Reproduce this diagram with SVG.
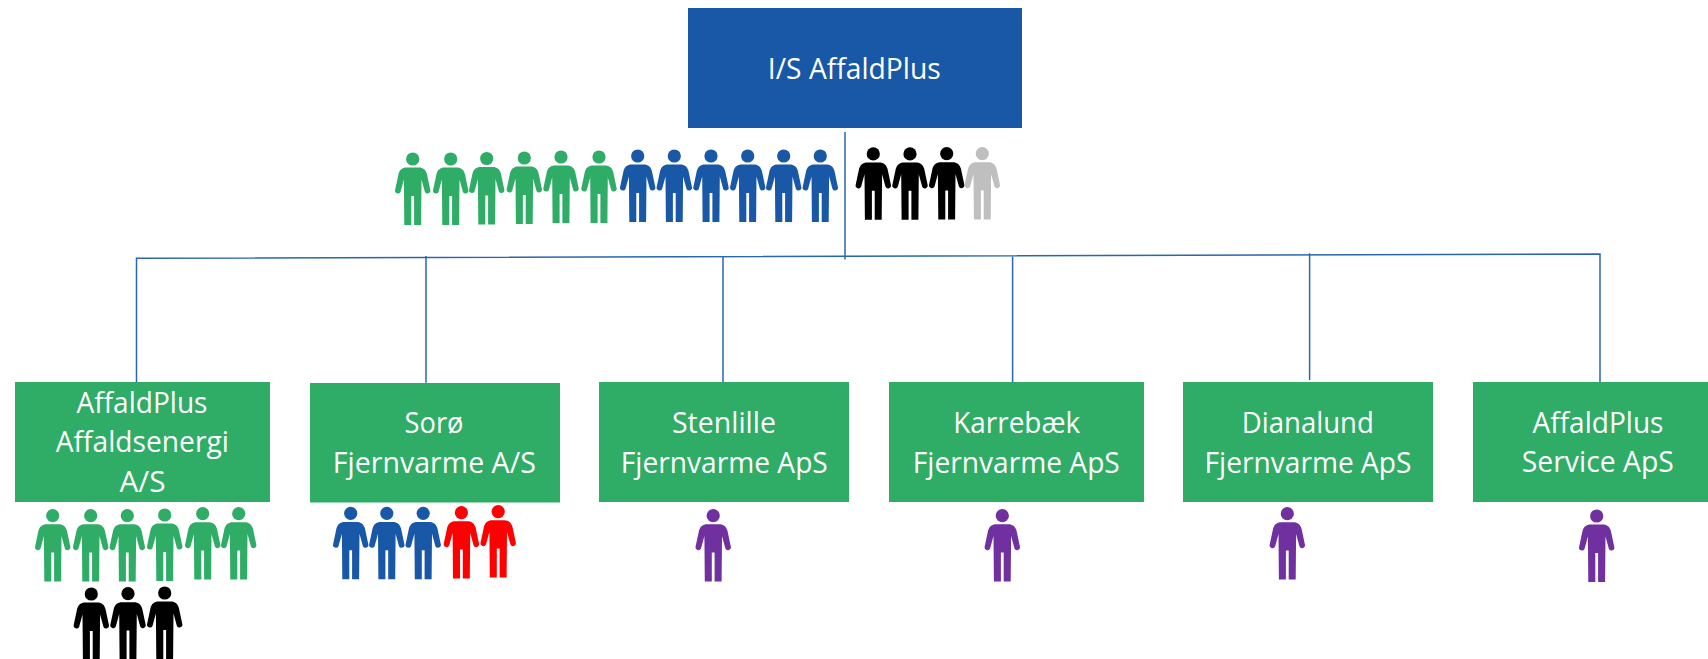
<svg xmlns="http://www.w3.org/2000/svg" xmlns:xlink="http://www.w3.org/1999/xlink" width="1708" height="659" viewBox="0 0 1708 659">
<style>
text{font-family:"Open Sans","Noto Sans","Liberation Sans",sans-serif;font-size:30px;fill:#fff;text-anchor:middle}
.blue-box{fill:#1958A6}.green-box{fill:#2FAC66}
.c{fill:none;stroke:#2A66AE;stroke-width:1.5}
.g{fill:#2FAC66}.b{fill:#1958A6}.k{fill:#000}.s{fill:#BFBFBF}.r{fill:#FF0000}.p{fill:#7030A0}
</style>
<defs>
<g id="person">
<circle cx="0" cy="6.6" r="6.6"/>
<path d="M-6,15.2H6C10.5,15.2 13,17.5 14.2,21.5L17.6,37.5A2.9,2.9 0 0 1 12.2,39.5L8.8,27L8.4,72.5H1.4V43.5H-1.4V72.5H-8.4L-8.8,27L-12.2,39.5A2.9,2.9 0 0 1 -17.6,37.5L-14.2,21.5C-13,17.5 -10.5,15.2 -6,15.2Z"/>
</g>
</defs>
<rect width="1708" height="659" fill="#fff"/>
<g id="connectors">
<path class="c" d="M845,132V259.5"/>
<path class="c" d="M136.5,385V258.3L1600,254V382"/>
<path class="c" d="M426,256V382.7"/>
<path class="c" d="M723,256V382"/>
<path class="c" d="M1012.6,256.5V383"/>
<path class="c" d="M1309.6,253.3V380"/>
</g>
<g id="node-affaldplus">
<rect class="blue-box" x="688" y="8" width="334" height="120"/>
<text x="854.3" y="79" textLength="173" lengthAdjust="spacingAndGlyphs">I/S AffaldPlus</text>
</g>
<g id="staff-affaldplus">
<use href="#person" class="g" x="412.7" y="152.4"/>
<use href="#person" class="g" x="450.7" y="152.4"/>
<use href="#person" class="g" x="486.7" y="151.9"/>
<use href="#person" class="g" x="524.3" y="151.4"/>
<use href="#person" class="g" x="561" y="150.4"/>
<use href="#person" class="g" x="599" y="150.4"/>
<use href="#person" class="b" x="637.7" y="149.4"/>
<use href="#person" class="b" x="674.3" y="149.4"/>
<use href="#person" class="b" x="711" y="149.4"/>
<use href="#person" class="b" x="747.7" y="149.4"/>
<use href="#person" class="b" x="783.7" y="149.4"/>
<use href="#person" class="b" x="820.3" y="149.4"/>
<use href="#person" class="k" x="873.3" y="147.3"/>
<use href="#person" class="k" x="910" y="147.3"/>
<use href="#person" class="k" x="946.7" y="147"/>
<use href="#person" class="s" x="982.3" y="147"/>
</g>
<g id="node-affaldsenergi">
<rect class="green-box" x="15" y="382" width="255" height="120"/>
<text x="142" y="412.7" textLength="131" lengthAdjust="spacingAndGlyphs">AffaldPlus</text>
<text x="142.3" y="451.7" textLength="173" lengthAdjust="spacingAndGlyphs">Affaldsenergi</text>
<text x="142.5" y="491.7" textLength="46" lengthAdjust="spacingAndGlyphs">A/S</text>
<use href="#person" class="g" x="52.7" y="509.1"/>
<use href="#person" class="g" x="90.7" y="509.1"/>
<use href="#person" class="g" x="127.3" y="509.1"/>
<use href="#person" class="g" x="164.7" y="508.4"/>
<use href="#person" class="g" x="202.7" y="507.1"/>
<use href="#person" class="g" x="238.7" y="507.1"/>
<use href="#person" class="k" x="91.3" y="587.4"/>
<use href="#person" class="k" x="128" y="587.1"/>
<use href="#person" class="k" x="164.7" y="586.4"/>
</g>
<g id="node-soroe">
<rect class="green-box" x="310" y="383" width="250" height="119.5"/>
<text x="434" y="433.3" textLength="59" lengthAdjust="spacingAndGlyphs">Sorø</text>
<text x="434.3" y="472.7" textLength="203" lengthAdjust="spacingAndGlyphs">Fjernvarme A/S</text>
<use href="#person" class="b" x="350.7" y="506.7"/>
<use href="#person" class="b" x="386.8" y="506.7"/>
<use href="#person" class="b" x="423.2" y="506.7"/>
<use href="#person" class="r" x="461.4" y="506.1"/>
<use href="#person" class="r" x="498.2" y="505.1"/>
</g>
<g id="node-stenlille">
<rect class="green-box" x="599" y="382" width="250" height="120"/>
<text x="724" y="432.7" textLength="104" lengthAdjust="spacingAndGlyphs">Stenlille</text>
<text x="724.3" y="472.7" textLength="207" lengthAdjust="spacingAndGlyphs">Fjernvarme ApS</text>
<use href="#person" class="p" x="713.2" y="509.1"/>
</g>
<g id="node-karrebaek">
<rect class="green-box" x="889" y="382" width="255" height="120"/>
<text x="1016.7" y="432.7" textLength="127" lengthAdjust="spacingAndGlyphs">Karrebæk</text>
<text x="1016.3" y="472.7" textLength="207" lengthAdjust="spacingAndGlyphs">Fjernvarme ApS</text>
<use href="#person" class="p" x="1002.3" y="509.1"/>
</g>
<g id="node-dianalund">
<rect class="green-box" x="1183" y="382" width="250" height="120"/>
<text x="1307.8" y="432.7" textLength="132" lengthAdjust="spacingAndGlyphs">Dianalund</text>
<text x="1308" y="472.7" textLength="207" lengthAdjust="spacingAndGlyphs">Fjernvarme ApS</text>
<use href="#person" class="p" x="1287.3" y="507.1"/>
</g>
<g id="node-service">
<rect class="green-box" x="1473" y="382" width="235" height="120"/>
<text x="1598" y="432.7" textLength="131" lengthAdjust="spacingAndGlyphs">AffaldPlus</text>
<text x="1597.8" y="471.7" textLength="152" lengthAdjust="spacingAndGlyphs">Service ApS</text>
<use href="#person" class="p" x="1596.7" y="509.4"/>
</g>
</svg>
